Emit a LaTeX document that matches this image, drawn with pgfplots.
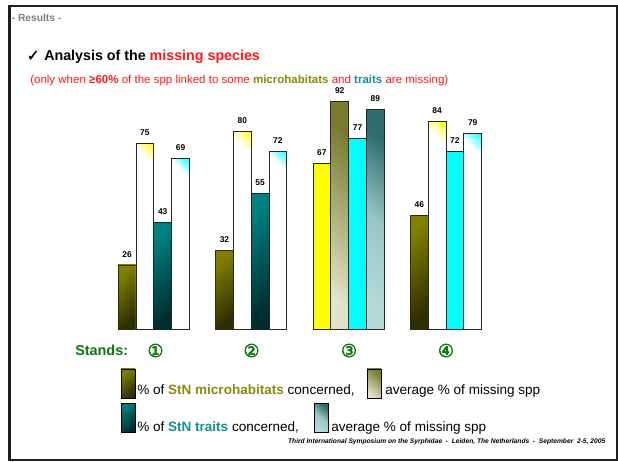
\documentclass[border=0pt]{standalone}
\usepackage{pgfplots}
\pgfplotsset{compat=1.18}
\usepackage{fontspec}
\setmainfont{Liberation Sans}
\newfontfamily\djv{DejaVu Sans}[FakeBold=1.5]
\newfontfamily\circfont{DejaVu Sans}[FakeBold=2.5]
\definecolor{olv}{HTML}{808000}
\definecolor{olvdark}{HTML}{2E2E00}
\definecolor{tl}{HTML}{008080}
\definecolor{tldark}{HTML}{002E2E}
\definecolor{olvlight}{HTML}{E2E2C8}
\definecolor{olvmid}{HTML}{7A7A30}
\definecolor{tllight}{HTML}{B4DADA}
\definecolor{tlmid}{HTML}{2E6E6E}
\definecolor{stgreen}{HTML}{0E780E}
\definecolor{subred}{HTML}{FF1A1A}
\definecolor{txolive}{HTML}{8A8A10}
\definecolor{txteal}{HTML}{149090}
\definecolor{yel}{rgb}{1,1,0}
\definecolor{cyn}{rgb}{0,1,1}
\pgfdeclareverticalshading{whiteyellow}{100bp}{rgb(0bp)=(1,1,1);rgb(78bp)=(1,1,1);rgb(86bp)=(1,1,0);rgb(100bp)=(1,1,0)}
\pgfdeclareverticalshading{whitecyan}{100bp}{rgb(0bp)=(1,1,1);rgb(78bp)=(1,1,1);rgb(86bp)=(0,1,1);rgb(100bp)=(0,1,1)}
\tikzset{
  olivebar/.style={top color=olv, bottom color=olvdark, shading angle=40},
  tealbar/.style={top color=tl, bottom color=tldark, shading angle=40},
  lolivebar/.style={top color=olvmid, bottom color=olvlight, shading angle=-40},
  ltealbar/.style={top color=tlmid, bottom color=tllight, middle color=tllight!80!tlmid, shading angle=-40},
  wybar/.style={shade, shading=whiteyellow, shading angle=-45},
  wcbar/.style={shade, shading=whitecyan, shading angle=-45},
}
\begin{document}
\begin{tikzpicture}[x=0.75pt,y=0.75pt]
\useasboundingbox (0,0) rectangle (618,461);
\fill[white] (0,0) rectangle (618,461);
\draw[line width=1.65pt, black!88] (9.5,1.2) rectangle (617,455);
% header
\node[anchor=west, inner sep=0, text=black!50, font=\bfseries\fontsize{7.7}{9}\selectfont] at (11.5,443) {- Results -};
\node[anchor=west, inner sep=0] at (26.5,404) {{\djv\fontsize{11.5}{13}\selectfont ✓}\hspace{3.5pt}{\bfseries\fontsize{10.7}{13}\selectfont Analysis of the \textcolor{subred}{missing species}}};
\node[anchor=west, inner sep=0, text=subred, font=\fontsize{8.64}{10}\selectfont] at (30,380) {(only when \textbf{≥60\%} of the spp linked to some \textbf{\textcolor{txolive}{microhabitats}} and \textbf{\textcolor{txteal}{traits}} are missing)};
\begin{axis}[
  at={(78.825pt,98.775pt)}, anchor=south west,
  scale only axis, width=292.2pt, height=185.55pt,
  xmin=0.5, xmax=4.5, ymin=0, ymax=100,
  hide axis, clip=false,
  ybar, bar width=13.35pt,
  /pgf/number format/assume math mode=true,
  every axis plot/.append style={draw=black!85, line width=0.7pt},
  nodes near coords,
  every node near coord/.append style={font=\bfseries\fontsize{6.3}{7}\selectfont, text=black, yshift=2.2pt},
]
% series 1: % of StN microhabitats concerned
\addplot[olivebar, draw=olvdark, bar shift=-20.03pt] coordinates {(1,26)};
\addplot[olivebar, draw=olvdark, bar shift=-20.03pt] coordinates {(2,32)};
\addplot[fill=yel, bar shift=-20.03pt] coordinates {(3,67)};
\addplot[olivebar, draw=olvdark, bar shift=-20.03pt] coordinates {(4,46)};
% series 2: average % of missing spp (microhabitats)
\addplot[wybar, bar shift=-6.68pt] coordinates {(1,75)};
\addplot[wybar, bar shift=-6.68pt] coordinates {(2,80)};
\addplot[lolivebar, bar shift=-6.68pt] coordinates {(3,92)};
\addplot[wybar, bar shift=-6.68pt] coordinates {(4,84)};
% series 3: % of StN traits concerned
\addplot[tealbar, draw=tldark, bar shift=6.68pt] coordinates {(1,43)};
\addplot[tealbar, draw=tldark, bar shift=6.68pt] coordinates {(2,55)};
\addplot[fill=cyn, bar shift=6.68pt] coordinates {(3,77)};
\addplot[fill=cyn, bar shift=6.68pt] coordinates {(4,72)};
% series 4: average % of missing spp (traits)
\addplot[wcbar, bar shift=20.03pt] coordinates {(1,69)};
\addplot[wcbar, bar shift=20.03pt] coordinates {(2,72)};
\addplot[ltealbar, bar shift=20.03pt] coordinates {(3,89)};
\addplot[wcbar, bar shift=20.03pt] coordinates {(4,79)};
\end{axis}
% stands
\node[anchor=west, inner sep=0, text=stgreen, font=\bfseries\fontsize{10.8}{12}\selectfont] at (75,111) {Stands:};
\foreach \xx/\nn in {155.5/①,251.5/②,349/③,446/④}{
  \node[inner sep=0, text=stgreen, font=\circfont\fontsize{13.5}{14}\selectfont] at (\xx,110.5) {\nn};
}
% legend
\shade[olivebar, draw=black, line width=0.6pt] (121,63) rectangle (135,92);
\node[anchor=base west, inner sep=0, font=\fontsize{10.15}{12}\selectfont] at (137,66.5) {\% of \textbf{\textcolor{txolive}{StN microhabitats}} concerned,};
\shade[lolivebar, draw=black, line width=0.6pt] (367,63) rectangle (381,92);
\node[anchor=base west, inner sep=0, font=\fontsize{10.15}{12}\selectfont] at (385,66.5) {average \% of missing spp};
\shade[tealbar, draw=black, line width=0.6pt] (121,29) rectangle (135,58);
\node[anchor=base west, inner sep=0, font=\fontsize{10.15}{12}\selectfont] at (137,29.5) {\% of \textbf{\textcolor{txteal}{StN traits}} concerned,};
\shade[ltealbar, draw=black, line width=0.6pt] (314,29) rectangle (328,58);
\node[anchor=base west, inner sep=0, font=\fontsize{10.15}{12}\selectfont] at (331,29.5) {average \% of missing spp};
% footer
\node[anchor=east, inner sep=0, font=\bfseries\itshape\fontsize{5.0}{6}\selectfont] at (605.5,19.5) {Third International Symposium on the Syrphidae \ - \ Leiden, The Netherlands \ - \ September \ 2-5, 2005};
\end{tikzpicture}
\end{document}
